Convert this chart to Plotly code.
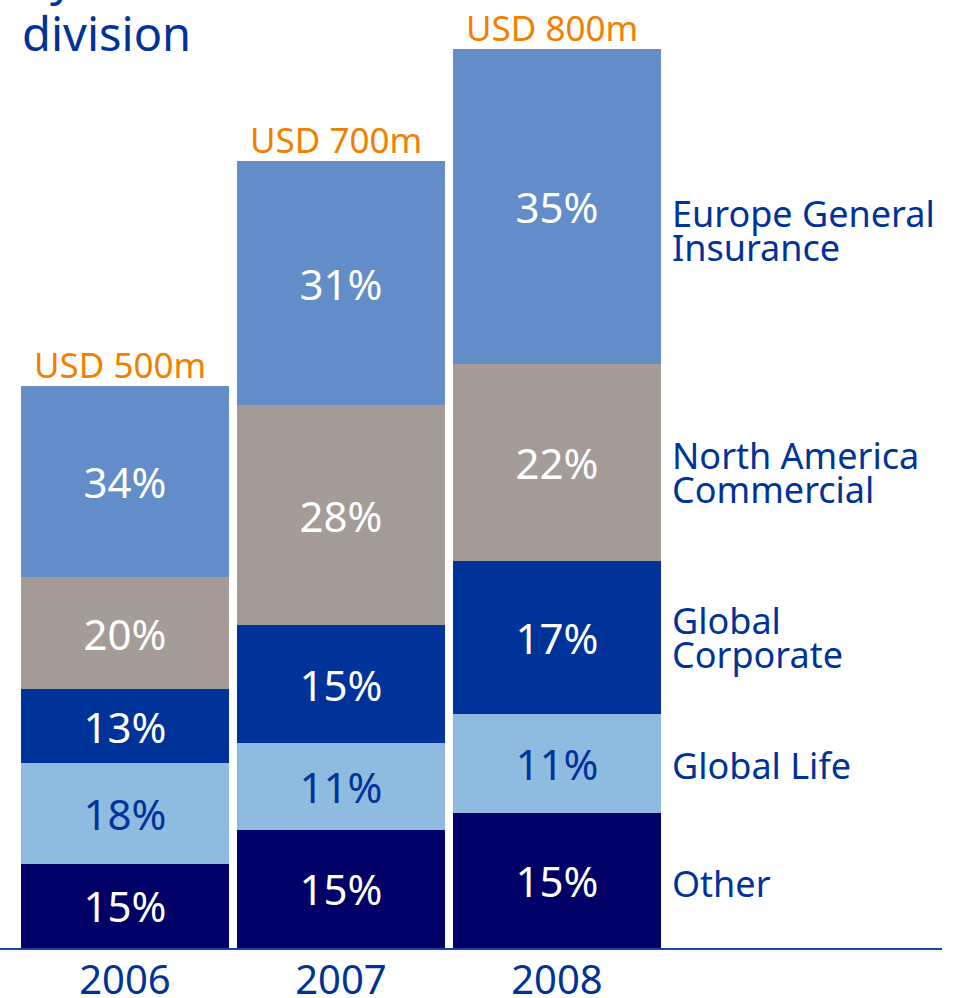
import plotly.graph_objects as go

years = ["2006", "2007", "2008"]
totals = [500, 700, 800]          # USD m
total_labels = ["USD 500m", "USD 700m", "USD 800m"]

divisions = ["Other", "Global Life", "Global Corporate",
             "North America Commercial", "Europe General Insurance"]
pct_other = [15, 15, 15]
pct_global_life = [18, 11, 11]
pct_global_corporate = [13, 15, 17]
pct_na_commercial = [20, 28, 22]
pct_europe_gi = [34, 31, 35]

label_lines = {
    "Other": ["Other"],
    "Global Life": ["Global Life"],
    "Global Corporate": ["Global", "Corporate"],
    "North America Commercial": ["North America", "Commercial"],
    "Europe General Insurance": ["Europe General", "Insurance"],
}

pcts = [pct_other, pct_global_life, pct_global_corporate,
        pct_na_commercial, pct_europe_gi]
colors = ["#000066", "#8FBBE0", "#003399", "#A59C98", "#628DC8"]
text_colors = ["white", "#003399", "white", "white", "white"]

FONT = "Noto Sans"
BLUE = "#003399"
ORANGE = "#F08000"

xs = [0, 1, 2]
fig = go.Figure()
for name, p, c, tc in zip(divisions, pcts, colors, text_colors):
    vals = [pp * t / 100 for pp, t in zip(p, totals)]
    fig.add_trace(go.Bar(
        x=xs, y=vals, name=name,
        marker=dict(color=c, line=dict(width=0)),
        width=0.965,
        text=[f"{v}%" for v in p],
        textposition="inside", insidetextanchor="middle",
        constraintext="none",
        textfont=dict(family=FONT, size=42, color=tc),
        hoverinfo="skip",
    ))

annotations = []
# totals above bars
for x, t, lab in zip(xs, totals, total_labels):
    annotations.append(dict(x=x, y=t, xref="x", yref="y", text=lab,
                            showarrow=False, xanchor="center", yanchor="bottom",
                            xshift=-5, yshift=-4,
                            font=dict(family=FONT, size=35, color=ORANGE)))

# right-hand division labels, positioned at the 2008 segment centres
cum = 0
last = len(xs) - 1
shift_down = {"Europe General Insurance": 24, "North America Commercial": 10,
              "Global Corporate": 0, "Global Life": 2, "Other": 3}
for name, p in zip(divisions, pcts):
    v = p[last] * totals[last] / 100
    centre = cum + v / 2
    cum += v
    lines = label_lines[name]
    n = len(lines)
    for i, ln in enumerate(lines):
        off = (n - 1) / 2 - i
        annotations.append(dict(x=last + 0.486, y=centre, xref="x", yref="y",
                                text=ln, showarrow=False, xanchor="left",
                                yanchor="middle", xshift=8,
                                yshift=off * 34 - shift_down[name],
                                font=dict(family=FONT, size=36, color=BLUE)))

# title (partly above the visible area)
annotations.append(dict(x=20 / 942, y=1 - 33 / 948, xref="paper", yref="paper",
                        text="division", showarrow=False, xanchor="left",
                        yanchor="middle",
                        font=dict(family=FONT, size=47, color=BLUE)))
annotations.append(dict(x=20 / 942, y=1 + 23 / 948, xref="paper", yref="paper",
                        text="by", showarrow=False, xanchor="left",
                        yanchor="middle",
                        font=dict(family=FONT, size=47, color=BLUE)))

k = 1.124  # px per USD m
fig.update_layout(
    width=958, height=998,
    margin=dict(l=0, r=16, t=0, b=50, autoexpand=False),
    paper_bgcolor="white", plot_bgcolor="white",
    barmode="stack", bargap=0,
    showlegend=False,
    annotations=annotations,
    xaxis=dict(range=[-125 / 216, -125 / 216 + 942 / 216],
               tickvals=xs, ticktext=years,
               tickfont=dict(family=FONT, size=40, color=BLUE),
               ticklabelstandoff=-4,
               showline=True, linecolor="#1A45A0", linewidth=2,
               showgrid=False, zeroline=False, ticks="", fixedrange=True,
               automargin=False),
    yaxis=dict(range=[0, 948 / k], visible=False, showgrid=False,
               zeroline=False, fixedrange=True),
)

fig.write_html("out.html",
               config={"displayModeBar": False, "staticPlot": True},
               post_script="document.body.style.margin='0';"
                           "document.body.style.overflow='hidden';")
